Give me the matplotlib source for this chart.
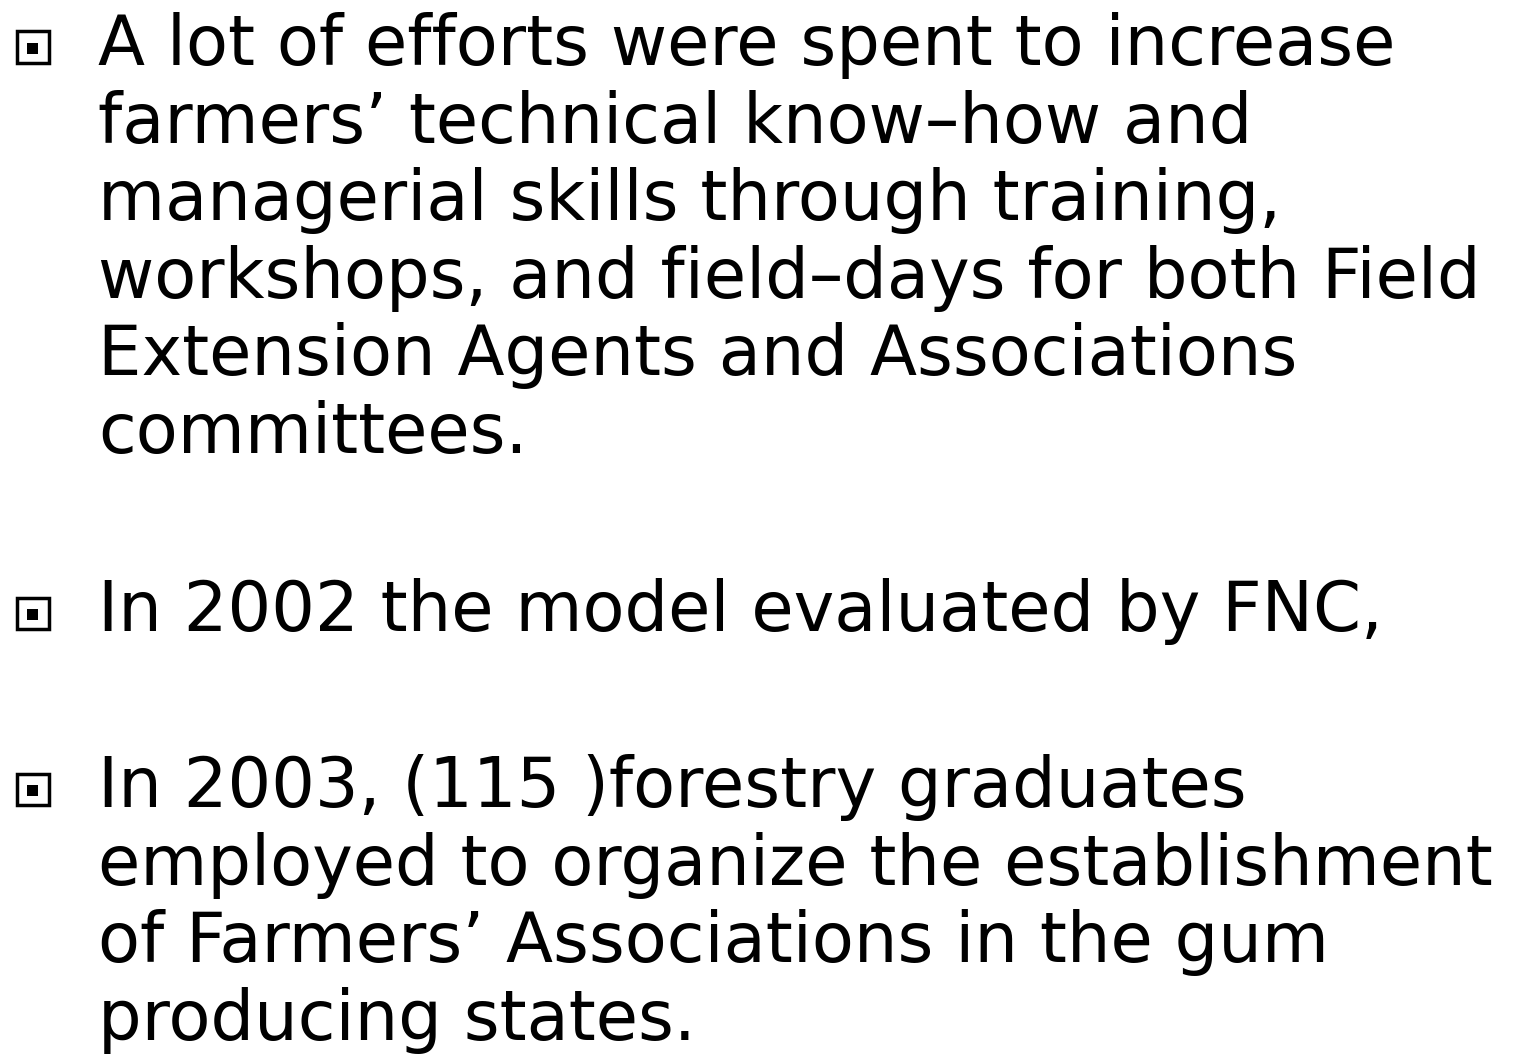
import matplotlib
matplotlib.use("Agg")
import matplotlib.pyplot as plt
from matplotlib.patches import Rectangle

# slide text, one list per bullet
bullet_1 = [
    "A lot of efforts were spent to increase",
    "farmers’ technical know–how and",
    "managerial skills through training,",
    "workshops, and field–days for both Field",
    "Extension Agents and Associations",
    "committees.",
]
bullet_2 = ["In 2002 the model evaluated by FNC,"]
bullet_3 = [
    "In 2003, (115 )forestry graduates",
    "employed to organize the establishment",
    "of Farmers’ Associations in the gum",
    "producing states.",
]
bullets = [bullet_1, bullet_2, bullet_3]

W, H = 1524, 1054
fig = plt.figure(figsize=(W / 100, H / 100), dpi=100)
fig.patch.set_facecolor("white")

line_gap = 77.6          # px between baselines
first_baseline = [65, 631, 807]
text_x = 98


def px(x, y):
    """pixel coords (top-left origin) -> figure fraction"""
    return x / W, 1 - y / H


for lines, b0 in zip(bullets, first_baseline):
    # hollow square bullet with a small filled square inside
    x0, y0 = px(16.5, b0 - 2.5)
    fig.patches.append(Rectangle((x0, y0), 32 / W, 31 / H, transform=fig.transFigure,
                                 fill=False, edgecolor="black", linewidth=2.5))
    x1, y1 = px(27, b0 - 11)
    fig.patches.append(Rectangle((x1, y1), 10.5 / W, 11 / H, transform=fig.transFigure,
                                 facecolor="black", edgecolor="none"))
    for i, line in enumerate(lines):
        x, y = px(text_x, b0 + i * line_gap)
        fig.text(x, y, line, family="DejaVu Sans", fontsize=49.5, color="black",
                 ha="left", va="baseline")

fig.savefig("out.png", dpi=100)
